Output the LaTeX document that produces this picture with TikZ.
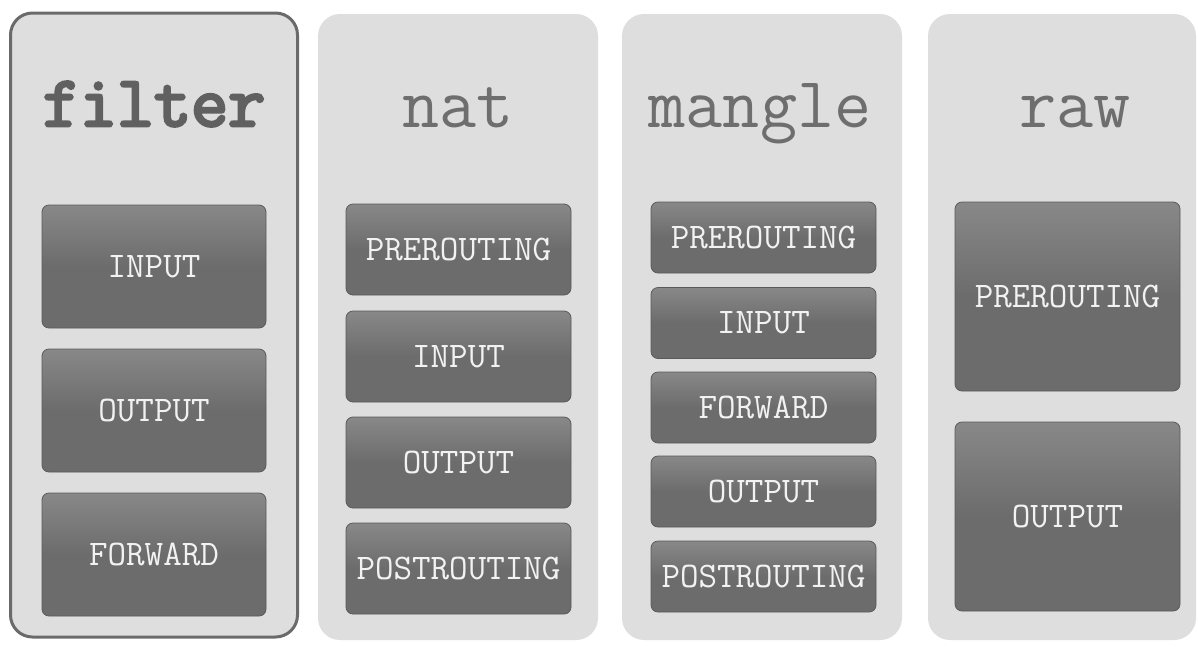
\documentclass[tikz,border=0pt]{standalone}
\usepackage{fontspec}
\newfontfamily\courfont{Latin Modern Mono}
\newfontfamily\courbold[FakeBold=4]{Latin Modern Mono}
\definecolor{panelbg}{HTML}{DEDEDE}
\definecolor{paneledge}{HTML}{6A6A6A}
\definecolor{boxfill}{HTML}{6C6C6C}
\definecolor{boxtop}{HTML}{888888}
\definecolor{boxedge}{HTML}{5A5A5A}
\definecolor{titlecol}{HTML}{6E6E6E}
\definecolor{filtercol}{HTML}{606060}
\definecolor{labelcol}{HTML}{F2F2F2}
\tikzset{
  panel/.style={rectangle, rounded corners=22pt, fill=panelbg, draw=none, inner sep=0pt},
  selpanel/.style={panel, draw=paneledge, line width=3pt},
  chain/.style={rectangle, rounded corners=7pt, top color=boxtop, bottom color=boxfill, middle color=boxfill, draw=boxedge, line width=0.8pt, inner sep=0pt,
    text=labelcol, font=\courfont\fontsize{36}{36}\selectfont},
  title/.style={text=titlecol, font=\courfont\fontsize{72}{72}\selectfont, inner sep=0pt, anchor=base}
}
\begin{document}
\begin{tikzpicture}[x=1pt,y=-1pt]
\useasboundingbox[fill=white] (0,0) rectangle (1198,646);
% panels
\node[selpanel, minimum width=287, minimum height=624] (pfilter) at (154,325) {};
\node[panel, minimum width=280, minimum height=626] (pnat) at (458,327) {};
\node[panel, minimum width=280, minimum height=626] (pmangle) at (762,327) {};
\node[panel, minimum width=268, minimum height=626] (praw) at (1062,327) {};
% titles
\node[title, text=filtercol, font=\courbold\fontsize{72}{72}\selectfont] (tfilter) at (154,126) {filter};
\node[title] (tnat) at (458,127) {nat};
\node[title] (tmangle) at (760,127) {mangle};
\node[title] (traw) at (1075,127) {raw};
% filter chains
\node[chain, minimum width=224, minimum height=123] (fin) at (154,266.5) {INPUT};
\node[chain, minimum width=224, minimum height=123] (fout) at (154,410.5) {OUTPUT};
\node[chain, minimum width=224, minimum height=123] (ffwd) at (154,554.5) {FORWARD};
% nat chains
\node[chain, minimum width=225, minimum height=91] (npre) at (458.5,249.5) {PREROUTING};
\node[chain, minimum width=225, minimum height=91] (nin) at (458.5,356.5) {INPUT};
\node[chain, minimum width=225, minimum height=91] (nout) at (458.5,462.5) {OUTPUT};
\node[chain, minimum width=225, minimum height=91] (npost) at (458.5,568.5) {POSTROUTING};
% mangle chains
\node[chain, minimum width=225, minimum height=71] (mpre) at (763.5,237.5) {PREROUTING};
\node[chain, minimum width=225, minimum height=71] (min) at (763.5,323) {INPUT};
\node[chain, minimum width=225, minimum height=71] (mfwd) at (763.5,407.5) {FORWARD};
\node[chain, minimum width=225, minimum height=71] (mout) at (763.5,491.5) {OUTPUT};
\node[chain, minimum width=225, minimum height=71] (mpost) at (763.5,576.5) {POSTROUTING};
% raw chains
\node[chain, minimum width=225, minimum height=189] (rpre) at (1067.5,296.5) {PREROUTING};
\node[chain, minimum width=225, minimum height=189] (rout) at (1067.5,516.5) {OUTPUT};
\end{tikzpicture}
\end{document}
